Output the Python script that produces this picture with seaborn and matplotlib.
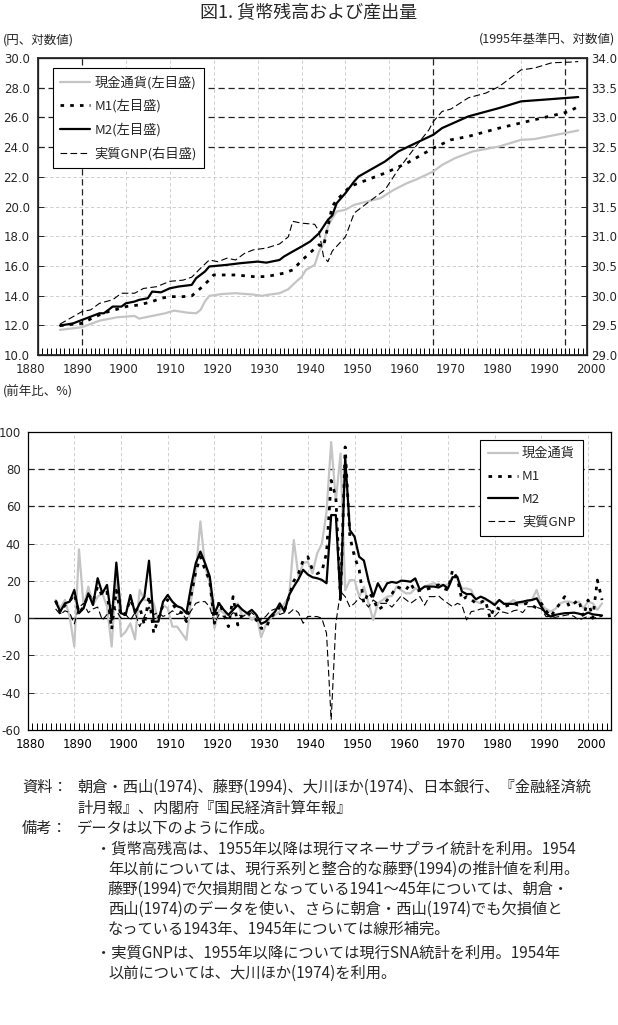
import numpy as np
import pandas as pd
import matplotlib
matplotlib.use("Agg")
import matplotlib.pyplot as plt
import matplotlib.transforms as mtransforms
import seaborn as sns

sns.set_theme(style="white")
plt.rcParams['font.family'] = ['Noto Sans CJK JP', 'DejaVu Sans']
plt.rcParams['axes.unicode_minus'] = False

# ---------------- data: levels (top panel) ----------------
cur_lv_year = [1885, 1890, 1894, 1898, 1902, 1903, 1906, 1909, 1911, 1914, 1916, 1917, 1918, 1919,
               1922, 1925, 1929, 1931, 1932, 1935, 1937, 1938, 1939, 1940, 1941, 1943, 1944, 1945,
               1946, 1947, 1948, 1950, 1952, 1955, 1958, 1961, 1964, 1966, 1970, 1972, 1975, 1979,
               1985, 1990, 1993, 1998, 2003]
cur_lv = [11.69, 11.87, 12.31, 12.54, 12.63, 12.45, 12.63, 12.81, 12.99, 12.85, 12.81, 13.03, 13.60, 13.98,
          14.11, 14.16, 14.07, 13.98, 14.04, 14.16, 14.43, 14.72, 15.00, 15.25, 15.73, 16.07, 16.97, 17.53,
          18.65, 19.21, 19.66, 19.78, 20.11, 20.34, 20.56, 21.12, 21.57, 21.80, 22.36, 22.80, 23.26, 23.71,
          24.04, 24.49, 24.54, 24.83, 25.12]

m1_lv_year = [1885, 1890, 1893, 1894, 1896, 1898, 1900, 1903, 1906, 1908, 1910, 1913, 1915, 1917, 1919,
              1920, 1925, 1929, 1932, 1936, 1938, 1940, 1942, 1944, 1945, 1946, 1947, 1948, 1950, 1951,
              1955, 1959, 1964, 1970, 1974, 1978, 1985, 1993, 1998, 2001, 2003]
m1_lv = [11.98, 12.13, 12.58, 12.70, 12.92, 13.08, 13.26, 13.37, 13.60, 13.82, 13.93, 13.93, 13.98, 14.49, 15.06,
         15.39, 15.39, 15.28, 15.28, 15.51, 15.73, 16.35, 16.90, 17.42, 17.30, 18.65, 20.00, 20.45, 21.01, 21.35,
         21.80, 22.25, 22.92, 23.93, 24.49, 24.72, 25.28, 25.84, 26.18, 26.40, 26.74]

m2_lv_year = [1885, 1888, 1890, 1891, 1894, 1895, 1896, 1897, 1899, 1900, 1902, 1903, 1905, 1906, 1908,
              1910, 1912, 1915, 1916, 1918, 1919, 1923, 1926, 1930, 1932, 1935, 1936, 1938, 1940, 1942,
              1944, 1946, 1947, 1948, 1950, 1952, 1953, 1959, 1962, 1966, 1970, 1972, 1978, 1985, 1990,
              1995, 2003]
m2_lv = [11.98, 12.13, 12.36, 12.47, 12.81, 12.81, 13.03, 13.26, 13.26, 13.48, 13.60, 13.71, 13.82, 14.27, 14.22,
         14.49, 14.61, 14.72, 15.17, 15.62, 15.96, 16.07, 16.18, 16.29, 16.22, 16.40, 16.63, 16.97, 17.30, 17.65,
         18.20, 19.10, 19.40, 20.22, 20.90, 21.69, 22.02, 23.03, 23.70, 24.27, 24.83, 25.28, 26.07, 26.63, 27.08,
         27.19, 27.37]

gnp_lv_year = [1885, 1890, 1892, 1894, 1897, 1899, 1902, 1904, 1907, 1910, 1913, 1915, 1917, 1919, 1921,
               1923, 1925, 1927, 1929, 1932, 1935, 1937, 1938, 1940, 1943, 1944, 1945, 1946, 1947, 1948,
               1950, 1952, 1955, 1959, 1962, 1966, 1969, 1970, 1972, 1974, 1978, 1982, 1985, 1990, 1993,
               1997, 2001, 2003]
gnp_lv = [29.52, 29.73, 29.76, 29.87, 29.93, 30.04, 30.04, 30.12, 30.15, 30.24, 30.26, 30.31, 30.46, 30.60, 30.57,
          30.63, 30.60, 30.71, 30.77, 30.80, 30.87, 30.99, 31.25, 31.22, 31.20, 31.08, 30.66, 30.57, 30.75, 30.83,
          30.99, 31.39, 31.56, 31.78, 32.12, 32.51, 32.79, 32.93, 33.10, 33.14, 33.33, 33.41, 33.52, 33.80, 33.83,
          33.92, 33.93, 33.94]

# ---------------- data: growth rates (bottom panel), 1886-2003 ----------------
gr_years = list(range(1886, 2004))
cur_gr = [9.8, 5.4, 9.8, 0.9, -15.2, 37.0, 6.2, 17.0, 7.1, 11.6,
          13.4, 6.2, -15.2, 26.0, -9.8, -7.2, -2.7, -11.3, 15.2, 9.8,
          9.8, 8.0, -1.8, 7.1, 5.4, -4.5, -4.5, -8.0, -11.6, 9.8,
          24.1, 52.0, 27.7, 18.8, -5.4, 4.5, 2.7, 1.8, 5.0, 8.0,
          0.9, 2.7, -0.9, 1.8, -10.2, -3.6, 0.0, 1.8, 3.6, 8.0,
          11.6, 42.0, 22.3, 29.5, 30.4, 24.1, 34.8, 40.0, 57.0, 94.6,
          63.0, 88.4, 15.0, 20.5, 20.5, 11.6, 17.0, 8.0, -0.9, 8.0,
          9.8, 11.6, 12.0, 17.0, 15.0, 13.4, 13.4, 16.0, 15.0, 17.0,
          18.0, 18.8, 18.0, 17.9, 18.0, 22.3, 21.4, 16.0, 16.0, 15.2,
          9.0, 8.0, 9.8, 9.0, 8.0, 9.8, 8.0, 8.0, 9.8, 8.0,
          8.0, 8.9, 10.0, 15.2, 7.1, 5.0, 3.6, 5.0, 8.0, 8.9,
          9.0, 8.0, 9.0, 5.4, 8.9, 8.0, 4.5, 8.0]
m1_gr = [9.5, 3.0, 7.0, 9.0, 13.0, 3.0, 6.0, 13.0, 9.0, 17.0,
         12.0, 14.0, -6.0, 15.0, 1.0, 3.0, 10.0, 4.0, 6.0, -3.6,
         12.0, -8.0, 0.0, 7.0, 10.0, 8.0, 4.0, 3.0, -1.8, 12.0,
         25.0, 33.0, 26.0, 20.0, -2.7, 9.0, 2.0, -4.5, 11.6, -3.6,
         2.0, 3.0, 1.0, -1.0, -5.4, -5.4, 0.0, 3.0, 6.0, 4.0,
         12.0, 20.0, 24.0, 31.0, 33.0, 26.0, 24.0, 25.0, 35.0, 74.0,
         65.0, 9.8, 92.0, 43.8, 33.0, 26.0, 8.0, 14.0, 10.7, 4.5,
         6.2, 9.8, 13.0, 17.0, 16.0, 15.2, 18.8, 14.3, 15.0, 15.2,
         16.0, 17.0, 17.9, 16.0, 15.2, 25.9, 21.4, 9.8, 11.6, 10.0,
         8.0, 8.5, 9.8, 0.0, 6.2, 5.0, 6.2, 7.0, 8.0, 7.1,
         7.5, 8.0, 7.0, 5.4, 8.0, 4.0, 0.9, 4.5, 8.0, 11.6,
         6.2, 8.0, 9.8, 0.9, 9.8, 0.0, 20.5, 9.8]
m2_gr = [8.9, 3.6, 8.0, 8.9, 15.2, 2.7, 5.4, 13.4, 7.1, 21.5,
         13.4, 17.9, -0.9, 29.9, 2.7, 1.8, 12.5, 2.7, 8.0, 11.6,
         30.9, -1.8, -1.8, 8.9, 12.5, 8.9, 6.5, 5.5, 2.7, 17.0,
         29.5, 35.8, 29.5, 22.4, 2.7, 8.0, 4.5, 1.8, 4.5, 7.1,
         4.5, 2.7, 4.5, 1.8, -3.0, -1.8, 1.0, 3.6, 8.0, 3.6,
         12.5, 17.0, 21.0, 26.0, 23.5, 22.0, 21.5, 20.6, 18.8, 55.4,
         55.4, 9.8, 86.6, 47.3, 43.8, 33.0, 31.0, 20.0, 11.6, 18.8,
         14.3, 18.8, 19.5, 19.0, 20.2, 20.0, 19.6, 21.4, 15.2, 17.0,
         17.0, 17.0, 16.5, 17.9, 16.0, 22.0, 22.3, 14.3, 13.0, 13.0,
         10.2, 11.6, 10.5, 8.9, 7.1, 9.8, 7.7, 7.7, 7.7, 8.5,
         8.9, 9.5, 9.8, 10.7, 6.2, 2.5, 0.9, 1.8, 2.3, 2.7,
         2.8, 3.0, 2.5, 1.8, 3.0, 2.1, 1.8, 1.5]
gnp_gr = [5, 2, 4, 3, -3, 6, 8, 3, 5, 6,
          -1, 2, 8, 4, 0, 2, -1, 3, -4.5, 1,
          6, 2, 3, 1, 2, 4, 2, 3, -0.5, 4,
          8, 9, 8.9, 6, -2.7, 2, 1, 0, 3, 2,
          1, 2, 3, 0.5, -1, 1, 4, 5, 2, 3,
          2.7, 5, 3, -2.7, 1, 1, 0.9, 0, -8, -54.5,
          -2.7, 14.3, 11.6, 6, 8, 11, 9, 6, 9.8, 8,
          8, 8, 6, 9, 12, 10, 8, 9.8, 11.6, 7,
          11.6, 11.6, 12, 9.8, 8, 6.2, 8, 7, -0.9, 3.6,
          4, 5, 5, 4.5, 1, 3.6, 3.2, 2.5, 4, 4.5,
          3, 6.2, 6.2, 5.9, 5, 0.9, 0.9, 0.5, 1, 1.5,
          2, 1, -1, 0, 1, 0, 0.5, 1]

decade_labels = [1880, 1890, 1900, 1910, 1920, 1930, 1940, 1950, 1960, 1970, 1980, 1990, 2000]
left_ticks = [10, 12, 14, 16, 18, 20, 22, 24, 26, 28, 30]
right_ticks = [29.0, 29.5, 30.0, 30.5, 31.0, 31.5, 32.0, 32.5, 33.0, 33.5, 34.0]
gr_ticks = [-60, -40, -20, 0, 20, 40, 60, 80, 100]

names_top = ["現金通貨(左目盛)", "M1(左目盛)", "M2(左目盛)", "実質GNP(右目盛)"]
names_bot = ["現金通貨", "M1", "M2", "実質GNP"]

# ---------------- figure ----------------
W, H = 618, 1025
fig = plt.figure(figsize=(W / 100, H / 100), dpi=100)

def rect(l, t, r, b):
    return [l / W, 1 - b / H, (r - l) / W, (b - t) / H]

axt = fig.add_axes(rect(38, 58, 587, 355))
axr = axt.twinx()
axb = fig.add_axes(rect(27.6, 432, 611.4, 730))

GRAY = '#c4c4c4'
styles = [dict(color=GRAY, lw=1.6, ls='-'),
          dict(color='black', lw=2.0, ls=(0, (1.3, 2.2))),
          dict(color='black', lw=1.6, ls='-'),
          dict(color='black', lw=0.8, ls=(0, (6, 3)))]

def draw(ax, x, y, st):
    sns.lineplot(x=x, y=y, ax=ax, estimator=None, sort=False, legend=False, **st)
    return ax.lines[-1]

h1 = draw(axt, cur_lv_year, cur_lv, styles[0])
h2 = draw(axt, m1_lv_year, m1_lv, styles[1])
h3 = draw(axt, m2_lv_year, m2_lv, styles[2])
h4 = draw(axr, gnp_lv_year, gnp_lv, styles[3])

b1 = draw(axb, gr_years, cur_gr, styles[0])
b2 = draw(axb, gr_years, m1_gr, styles[1])
b3 = draw(axb, gr_years, m2_gr, styles[2])
b4 = draw(axb, gr_years, gnp_gr, styles[3])

LIGHT = dict(color='#c8c8c8', linestyle=(0, (4, 3)), linewidth=0.6)
NUMF = dict(fontfamily='DejaVu Sans', fontsize=8.5)

for ax in (axt, axb):
    ax.set_xlim(1880, 2005)
    ax.set_xticks(decade_labels)
    ax.set_xticks(list(range(1880, 2006)), minor=True)
    ax.tick_params(axis='x', which='both', direction='in', length=5, width=0.7,
                   bottom=True, top=False, colors='black')
    ax.grid(True, axis='both', which='major', **LIGHT)
    ax.set_xlabel('')
    ax.set_ylabel('')
    for s in ax.spines.values():
        s.set_color('black')
        s.set_linewidth(0.9)

axt.set_ylim(10, 30)
axt.set_yticks(left_ticks)
axt.set_yticklabels([f"{v:.1f}" for v in left_ticks], **NUMF)
axt.tick_params(axis='y', direction='in', length=4, width=0.7, pad=6, left=True)
axt.set_xticklabels([])
axr.set_ylim(29, 34)
axr.set_yticks(right_ticks)
axr.set_yticklabels([f"{v:.1f}" for v in right_ticks], **NUMF)
axr.tick_params(axis='y', direction='in', length=4, width=0.7, pad=3, right=True)
axr.grid(False)
axr.set_ylabel('')

DARK = dict(color='#222222', linestyle=(0, (5, 3)), linewidth=0.9)
for gl, v in zip(axt.get_ygridlines(), left_ticks):
    if v in (24, 26, 28):
        gl.set(**DARK)
for gl, v in zip(axt.get_xgridlines(), decade_labels):
    if v in (1890, 1970, 2000):
        gl.set(**DARK)

# top x labels follow the lower panel's year scale (as in the source)
blend = mtransforms.blended_transform_factory(axb.transData, axt.transAxes)
shift = mtransforms.ScaledTranslation(3 / 100, -8 / 100, fig.dpi_scale_trans)
for d in decade_labels:
    axt.text(d, 0, str(d), transform=blend + shift, ha='center', va='top', **NUMF)

axb.set_ylim(-60, 100)
axb.set_yticks(gr_ticks)
axb.set_yticklabels([str(v) for v in gr_ticks], **NUMF)
axb.tick_params(axis='y', direction='in', length=4, width=0.7, pad=5, left=True)
axb.set_xticklabels([str(d) for d in decade_labels], **NUMF)
axb.tick_params(axis='x', which='major', pad=5.5)
xshift = mtransforms.ScaledTranslation(3 / 100, 0, fig.dpi_scale_trans)
for lbl in axb.get_xticklabels():
    lbl.set_transform(lbl.get_transform() + xshift)
for gl, v in zip(axb.get_ygridlines(), gr_ticks):
    if v in (60, 80):
        gl.set(**DARK)
    if v == 0:
        gl.set(color='black', linestyle='-', linewidth=1.0)

leg_kw = dict(frameon=True, fancybox=False, framealpha=1, edgecolor='black', fontsize=9.5,
              handlelength=2.3, labelspacing=0.75, borderpad=0.55, handletextpad=0.3,
              borderaxespad=0)
lt = axr.legend([h1, h2, h3, h4], names_top, loc='upper left',
                bbox_to_anchor=(0.027, 0.966), **leg_kw)
lt.get_frame().set_linewidth(0.8)
lb = axb.legend([b1, b2, b3, b4], names_bot, loc='upper right',
                bbox_to_anchor=(0.951, 0.973), **leg_kw)
lb.get_frame().set_linewidth(0.8)

# titles and axis captions
fig.text(0.5, 1 - 13 / H, "図1. 貨幣残高および産出量", ha='center', va='center', fontsize=13)
fig.text(3 / W, 1 - 40 / H, "(円、対数値)", ha='left', va='center', fontsize=9)
fig.text(615 / W, 1 - 40 / H, "(1995年基準円、対数値)", ha='right', va='center', fontsize=9)
fig.text(3 / W, 1 - 392 / H, "(前年比、%)", ha='left', va='center', fontsize=9)

# notes
NFS = 11.0
notes = [
    (22, 787, "資料："),
    (77, 787, "朝倉・西山(1974)、藤野(1994)、大川ほか(1974)、日本銀行、『金融経済統"),
    (77, 808, "計月報』、内閣府『国民経済計算年報』"),
    (22, 828, "備考："),
    (77, 828, "データは以下のように作成。"),
    (96, 849, "・貨幣高残高は、1955年以降は現行マネーサプライ統計を利用。1954"),
    (108, 869, "年以前については、現行系列と整合的な藤野(1994)の推計値を利用。"),
    (108, 889, "藤野(1994)で欠損期間となっている1941～45年については、朝倉・"),
    (108, 909, "西山(1974)のデータを使い、さらに朝倉・西山(1974)でも欠損値と"),
    (108, 929, "なっている1943年、1945年については線形補完。"),
    (96, 953, "・実質GNPは、1955年以降については現行SNA統計を利用。1954年"),
    (108, 973, "以前については、大川ほか(1974)を利用。"),
]
for x, y, t in notes:
    fig.text(x / W, 1 - y / H, t, ha='left', va='center', fontsize=NFS)

fig.savefig("out.png", dpi=100)
